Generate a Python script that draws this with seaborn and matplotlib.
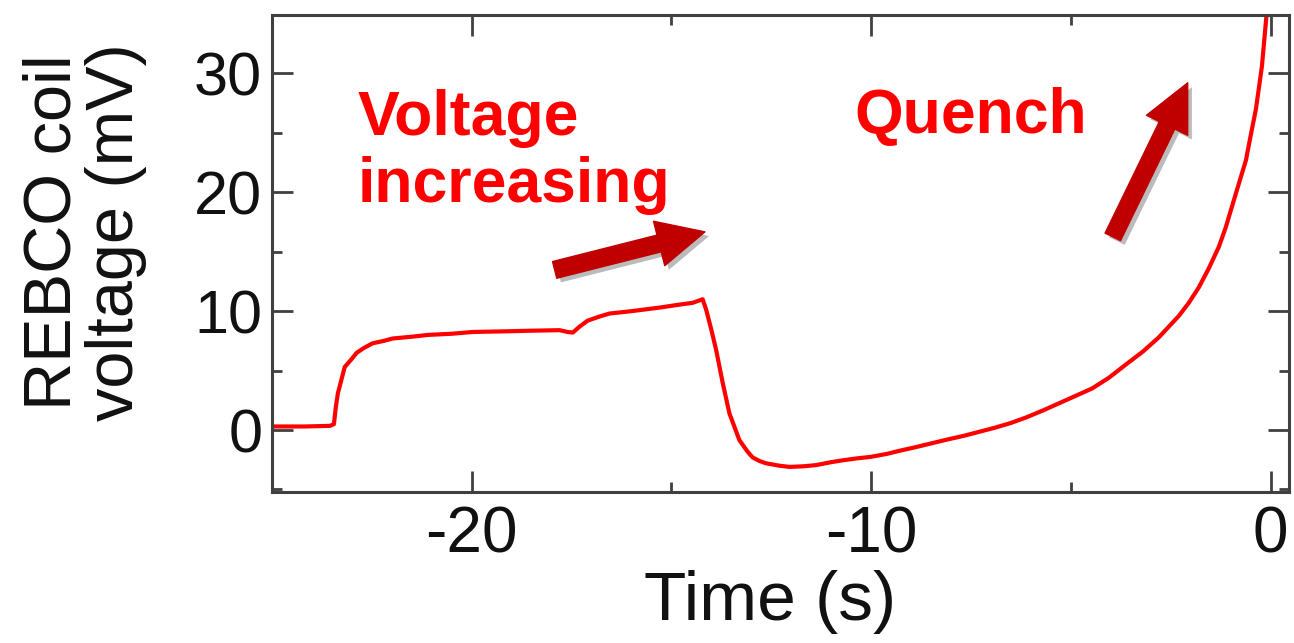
import matplotlib
matplotlib.use("Agg")
import matplotlib.pyplot as plt
import matplotlib.patheffects as pe
from matplotlib.ticker import MultipleLocator
import seaborn as sns
import pandas as pd

# ---- data ----
time_s = [-25.0, -24.2, -23.55, -23.45, -23.4, -23.35, -23.18, -23.0, -22.88,
          -22.7, -22.48, -22.2, -21.98, -21.5, -21.1, -20.5, -19.97, -19.2,
          -18.6, -17.8, -17.6, -17.47, -17.3, -17.1, -16.8, -16.55, -16.0,
          -15.3, -14.8, -14.47, -14.22, -14.13, -14.0, -13.88, -13.72, -13.55,
          -13.3, -13.1, -12.97, -12.8, -12.63, -12.3, -12.05, -11.7, -11.38,
          -11.0, -10.72, -10.4, -10.0, -9.6, -9.3, -8.9, -8.47, -8.1, -7.7,
          -7.3, -6.9, -6.5, -6.13, -5.7, -5.3, -4.9, -4.47, -4.05, -3.63,
          -3.2, -2.8, -2.55, -2.3, -2.05, -1.8, -1.55, -1.3, -1.13, -0.97,
          -0.8, -0.62, -0.5, -0.37, -0.22, -0.1]
voltage_mV = [0.3, 0.3, 0.35, 0.5, 2.0, 3.1, 5.3, 6.0, 6.5,
              6.9, 7.3, 7.5, 7.7, 7.85, 8.0, 8.1, 8.25, 8.3,
              8.35, 8.4, 8.25, 8.2, 8.7, 9.2, 9.55, 9.8, 10.0,
              10.3, 10.55, 10.7, 11.0, 10.1, 8.4, 6.7, 4.0, 1.4,
              -0.85, -1.8, -2.3, -2.6, -2.8, -3.0, -3.1, -3.05, -2.95,
              -2.7, -2.55, -2.4, -2.25, -2.0, -1.75, -1.45, -1.1, -0.8, -0.5,
              -0.15, 0.2, 0.6, 1.05, 1.65, 2.25, 2.85, 3.5, 4.4, 5.5,
              6.6, 7.8, 8.7, 9.6, 10.7, 12.0, 13.6, 15.4, 17.0, 18.8,
              20.7, 22.7, 24.8, 27.0, 30.6, 35.1]

x_ticks = [-20, -10, 0]
y_ticks = [0, 10, 20, 30]
x_label = "Time (s)"
y_label = "REBCO coil\nvoltage (mV)"
note_voltage = "Voltage\nincreasing"
note_quench = "Quench"

df = pd.DataFrame({"time": time_s, "voltage": voltage_mV})

sns.set_theme(style="ticks")
plt.rcParams["font.family"] = ["Liberation Sans", "DejaVu Sans"]
plt.rcParams["axes.unicode_minus"] = False

fig = plt.figure(figsize=(12.94, 6.43), dpi=100)
ax = fig.add_axes([0.2102, 0.2356, 0.7857, 0.7418])

sns.lineplot(data=df, x="time", y="voltage", ax=ax, color="#FF0000",
             linewidth=3.0, estimator=None, sort=False)

ax.set_xlim(-25, 0.45)
ax.set_ylim(-5.17, 34.95)
ax.set_xticks(x_ticks)
ax.set_yticks(y_ticks)
ax.xaxis.set_minor_locator(MultipleLocator(5))
ax.yaxis.set_minor_locator(MultipleLocator(5))

spine_col = "#404040"
for s in ax.spines.values():
    s.set_visible(True)
    s.set_color(spine_col)
    s.set_linewidth(2.2)

ax.tick_params(which="both", direction="in", top=True, right=True,
               color=spine_col, width=2.0)
ax.tick_params(which="major", length=15)
ax.tick_params(which="minor", length=7.5)
ax.tick_params(axis="x", which="major", labelsize=46, pad=10, labelcolor="#111111")
ax.tick_params(axis="y", which="major", labelsize=44, pad=7, labelcolor="#111111")

ax.set_xlabel(x_label, fontsize=50, color="#111111")
ax.xaxis.label.set_va("center")
ax.xaxis.set_label_coords(0.49, -0.232)

ax.set_ylabel(y_label, fontsize=48, color="#111111", linespacing=1.0)
ax.yaxis.label.set_va("center")
ax.yaxis.set_label_coords(-0.184, 0.544)

# annotations
ax.text(0.0846, 0.607, note_voltage, transform=ax.transAxes, color="#FF0000",
        fontsize=45, fontweight="bold", ha="left", va="baseline", linespacing=1.17)
ax.text(0.573, 0.752, note_quench, transform=ax.transAxes, color="#FF0000",
        fontsize=45, fontweight="bold", ha="left", va="baseline")

shadow = [pe.SimplePatchShadow(offset=(3, -3), shadow_rgbFace="#555555", alpha=0.4),
          pe.Normal()]
arrow_props = dict(arrowstyle="simple,head_length=1.7,head_width=1.65,tail_width=0.62",
                   color="#C00000", shrinkA=0, shrinkB=0, mutation_scale=20)
for tail, tip in [((0.278, 0.4646), (0.4258, 0.5443)),
                  ((0.827, 0.5338), (0.9007, 0.8568))]:
    ann = ax.annotate("", xy=tip, xytext=tail, xycoords="axes fraction",
                      textcoords="axes fraction", arrowprops=arrow_props)
    ann.arrow_patch.set_path_effects(shadow)

fig.savefig("out.png", dpi=100, facecolor="white")
